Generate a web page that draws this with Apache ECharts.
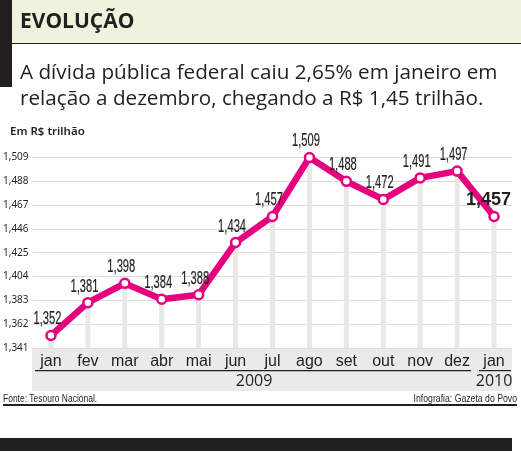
<!DOCTYPE html>
<html><head><meta charset="utf-8">
<script src="https://cdn.jsdelivr.net/npm/echarts@6/dist/echarts.min.js"></script>
<style>html,body{margin:0;padding:0;background:#fff}#c{width:521px;height:454px}</style>
</head><body><div id="c"></div>
<script>
var months = ['jan','fev','mar','abr','mai','jun','jul','ago','set','out','nov','dez','jan'];
var values = [1.352,1.381,1.398,1.384,1.388,1.434,1.457,1.509,1.488,1.472,1.491,1.497,1.457];
var years = ['2009','2010'];
var yMin = 1.341, yMax = 1.509, yStep = 0.021;

var magenta = '#e5007e';
var ink = '#231f20';
var arialLike = '"Liberation Sans",Arial,sans-serif';
function fmt(v){ return v.toFixed(3).replace('.', ','); }

var chart = echarts.init(document.getElementById('c'), null, {renderer:'canvas'});
var lastIdx = values.length - 1;
var option = {
  animation:false,
  grid:{left:31.5, right:8.5, top:157.5, bottom:106},
  xAxis:{type:'category', data:months, boundaryGap:true,
    axisLine:{show:false}, axisTick:{show:false},
    axisLabel:{color:ink, fontFamily:arialLike, fontSize:16, margin:6, interval:0, letterSpacing:-0.9}},
  yAxis:{type:'value', min:yMin, max:yMax, interval:yStep,
    axisLine:{show:false}, axisTick:{show:false},
    splitLine:{lineStyle:{color:'#dcdcdc', width:1}},
    axisLabel:{color:ink, fontFamily:'"Noto Sans",sans-serif', fontSize:10, align:'left', margin:29.5,
      formatter:function(v){return fmt(v);}}},
  series:[
    {type:'bar', data:values, barWidth:5, itemStyle:{color:'#e8e8e6'}, silent:true, z:1},
    {type:'line', data:values, z:3, lineStyle:{color:magenta, width:6.5}, symbol:'circle', symbolSize:9,
      itemStyle:{color:'#fff', borderColor:magenta, borderWidth:2.5}},
    {type:'custom', z:5, silent:true,
      data:values.map(function(v,i){return [i,v];}),
      renderItem:function(params, api){
        var i = api.value(0), v = api.value(1);
        var pt = api.coord([i, v]);
        if(i === lastIdx){
          return {type:'text', x:pt[0]-5.5, y:pt[1]-17, scaleX:0.95,
            style:{text:fmt(v), font:'bold 19px ' + arialLike, fill:ink, align:'center', verticalAlign:'middle'}};
        }
        return {type:'text', x:pt[0]-3.5, y:pt[1]-16, scaleX:0.62,
          style:{text:fmt(v), font:'18px ' + arialLike, fill:ink, stroke:ink, lineWidth:0.2, align:'center', verticalAlign:'middle'}};
      }}
  ],
  graphic:[
    {type:'rect', shape:{x:12,y:0,width:509,height:43}, style:{fill:'#eef3dd'}, silent:true},
    {type:'rect', shape:{x:12,y:43,width:509,height:1}, style:{fill:ink}, silent:true},
    {type:'rect', shape:{x:0,y:0,width:12,height:87}, style:{fill:ink}, silent:true},
    {type:'text', left:20, top:12, style:{text:'EVOLUÇÃO', font:'bold 21px "Open Sans",sans-serif', fill:ink}},
    {type:'text', left:20, top:63, style:{text:'A dívida pública federal caiu 2,65% em janeiro em', font:'20.7px "Open Sans",sans-serif', fill:ink}},
    {type:'text', left:20, top:89, style:{text:'relação a dezembro, chegando a R$ 1,45 trilhão.', font:'20.7px "Open Sans",sans-serif', fill:ink}},
    {type:'text', left:10, top:126, style:{text:'Em R$ trilhão', font:'600 11.5px "Noto Sans",sans-serif', fill:ink}},
    {type:'rect', z:-10, shape:{x:32,y:349,width:480,height:42}, style:{fill:'#e8ebe7'}, silent:true},
    {type:'text', x:3, y:399, scaleX:0.77, style:{text:'Fonte: Tesouro Nacional.', font:'11px ' + arialLike, fill:ink, verticalAlign:'middle'}},
    {type:'text', x:517, y:399, scaleX:0.79, style:{text:'Infografia: Gazeta do Povo', font:'11px ' + arialLike, fill:ink, align:'right', verticalAlign:'middle'}},
    {type:'rect', shape:{x:3,y:404,width:514,height:2}, style:{fill:ink}, silent:true},
    {type:'rect', shape:{x:0,y:438,width:512,height:13}, style:{fill:ink}, silent:true}
  ]
};
chart.setOption(option);

// year labels and underline segments, positioned from the category scale
var first = chart.convertToPixel({xAxisIndex:0}, 0);
var lastOf2009 = chart.convertToPixel({xAxisIndex:0}, 11);
var last = chart.convertToPixel({xAxisIndex:0}, 12);
var band = (lastOf2009 - first) / 11;
var g = option.graphic.slice();
g.push({type:'rect', shape:{x:first-band/2+2.5, y:370, width:(lastOf2009-first)+band-7, height:1.2}, style:{fill:ink}, silent:true});
g.push({type:'rect', shape:{x:last-band/2+3.5, y:370, width:band-5, height:1.2}, style:{fill:ink}, silent:true});
g.push({type:'text', x:(first+lastOf2009)/2, y:381, style:{text:years[0], font:'16px "Open Sans",sans-serif', fill:ink, align:'center', verticalAlign:'middle'}});
g.push({type:'text', x:last, y:381, style:{text:years[1], font:'16px "Open Sans",sans-serif', fill:ink, align:'center', verticalAlign:'middle'}});
chart.setOption({graphic:g}, {replaceMerge:['graphic']});
</script></body></html>
